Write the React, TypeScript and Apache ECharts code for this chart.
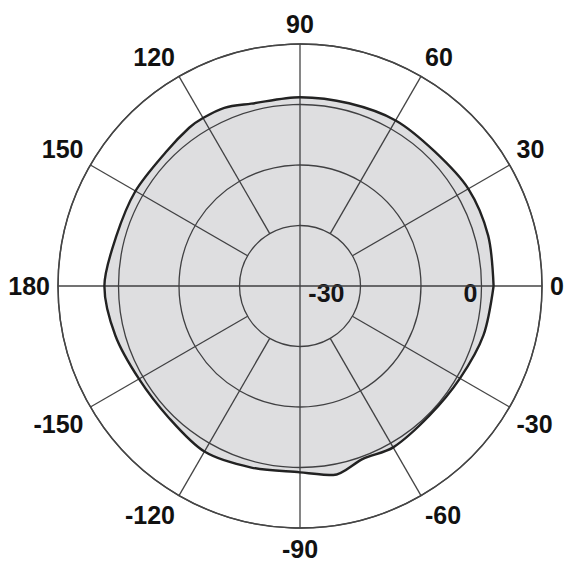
import React, { useEffect, useRef } from "react";
import * as echarts from "echarts";

// measured pattern, gain in dB at each azimuth (deg)
const patternAngles = [0, 15, 30, 45, 60, 75, 90, 105, 113, 120, 125, 135, 150, 165, 180, 195, 210, 225, 240, 255, 270, 280, 290, 300, 315, 330, 345, 360];
const patternGain = [3.0, 3.3, 3.2, 2.2, 2.4, 1.9, 1.8, 1.8, 3.0, 3.1, 2.9, 2.0, 2.1, 2.2, 3.5, 2.4, 1.1, 1.1, 2.4, 1.6, 1.2, 2.6, 0.6, 1.2, 0.4, 0.8, 2.1, 3.0];

const spokeAngles = [30, 60, 120, 150, 210, 240, 300, 330];
const crossAngles = [0, 90, 180, 270];
const radiusLabelValues = [-30, 0];

const R_MIN = -45;
const R_MAX = 15;
const LINE = "#454545";
const FONT = "'Liberation Sans', Arial, sans-serif";

const App: React.FC = () => {
    const chartRef = useRef<HTMLDivElement>(null);

    useEffect(() => {
        const chart = echarts.init(chartRef.current!, undefined, { renderer: "svg" });

        const spokes = spokeAngles.map((a) => ({
            type: "line",
            coordinateSystem: "polar",
            data: [[-30, a], [R_MAX, a]],
            symbol: "none",
            silent: true,
            lineStyle: { color: LINE, width: 1.3 },
            z: 1,
        }));
        const cross = crossAngles.map((a) => ({
            type: "line",
            coordinateSystem: "polar",
            data: [[R_MIN, a], [R_MAX, a]],
            symbol: "none",
            silent: true,
            lineStyle: { color: LINE, width: 1.3 },
            z: 1,
        }));

        const option: any = {
            animation: false,
            backgroundColor: "#ffffff",
            polar: { center: [300, 286], radius: 242 },
            angleAxis: {
                type: "value",
                min: 0,
                max: 360,
                interval: 30,
                startAngle: 0,
                clockwise: false,
                axisLine: { show: true, lineStyle: { color: LINE, width: 1.5 } },
                axisTick: { show: false },
                splitLine: { show: false },
                axisLabel: {
                    margin: 8,
                    color: "#111",
                    fontSize: 25,
                    fontWeight: "bold",
                    fontFamily: FONT,
                    formatter: (v: number) => String(v > 180 ? v - 360 : v),
                },
            },
            radiusAxis: {
                type: "value",
                min: R_MIN,
                max: R_MAX,
                interval: 15,
                axisLine: { show: false },
                axisTick: { show: false },
                splitLine: { show: true, lineStyle: { color: LINE, width: 1.3 } },
                axisLabel: {
                    margin: 6,
                    align: "right",
                    verticalAlign: "top",
                    color: "#111",
                    fontSize: 25,
                    fontWeight: "bold",
                    fontFamily: FONT,
                    formatter: (v: number) =>
                        radiusLabelValues.includes(v) ? (v === -30 ? "{a|" + v + "}" : "{b|" + v + "}") : "",
                    rich: {
                        a: { padding: [0, 16, 0, 0], fontSize: 25, fontWeight: "bold", fontFamily: FONT, color: "#111" },
                        b: { padding: [0, 4, 0, 0], fontSize: 25, fontWeight: "bold", fontFamily: FONT, color: "#111" },
                    },
                },
            },
            series: [
                ...spokes,
                ...cross,
                {
                    type: "line",
                    coordinateSystem: "polar",
                    data: patternAngles.map((a, i) => [patternGain[i], a]),
                    symbol: "none",
                    smooth: 0.3,
                    silent: true,
                    lineStyle: { color: "#222222", width: 2.4 },
                    areaStyle: { origin: "start", color: "rgba(40,42,52,0.22)" },
                    z: 2,
                },
            ],
        };

        chart.setOption(option);

        return () => {
            chart.dispose();
        };
    }, []);

    return (
        <div
            ref={chartRef}
            style={{ position: "absolute", left: 0, top: 0, width: "575px", height: "575px" }}
        ></div>
    );
};

export default App;
